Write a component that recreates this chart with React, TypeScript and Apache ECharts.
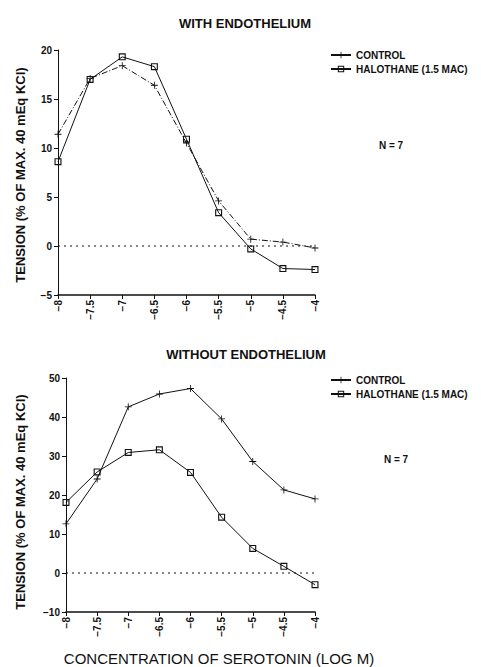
import React, { useEffect, useRef } from "react";
import * as echarts from "echarts";

const logConc = [-8, -7.5, -7, -6.5, -6, -5.5, -5, -4.5, -4];
const withControl = [11.4, 17.1, 18.4, 16.4, 10.5, 4.6, 0.7, 0.4, -0.2];
const withHalothane = [8.6, 17.0, 19.3, 18.3, 10.9, 3.4, -0.3, -2.3, -2.4];
const withoutControl = [12.6, 24.1, 42.6, 45.9, 47.3, 39.5, 28.6, 21.3, 19.0];
const withoutHalothane = [18.1, 25.9, 30.9, 31.6, 25.8, 14.3, 6.3, 1.7, -3.0];
const zeroRef = [0, 0];
const zeroRefX = [-8, -4];

const topTicks = { min: -5, max: 20, interval: 5 };
const bottomTicks = { min: -10, max: 50, interval: 10 };

const FONT = "'Liberation Sans', Arial, sans-serif";
const INK = "#111";
const CROSS = "path://M4.4,0h1.2v10h-1.2z M0,4.4h10v1.2h-10z";
const SQUARE = "path://M0,0h10v10h-10z M1.6,1.6v6.8h6.8v-6.8z";

function pairs(xs: number[], ys: number[]) {
  return xs.map((x, i) => [x, ys[i]]);
}

export default function App() {
  const ref = useRef<HTMLDivElement>(null);
  useEffect(() => {
    document.body.style.margin = "0";
    const chart = echarts.init(ref.current!, null, { renderer: "svg" });
    const fmt = (v: number) => (v < 0 ? "\u2212" + String(-v) : String(v));
    const xAxisBase = (gridIndex: number) => ({
      type: "value",
      gridIndex,
      min: -8,
      max: -4,
      interval: 0.5,
      splitLine: { show: false },
      axisLine: { show: true, onZero: false, lineStyle: { color: INK, width: 1.5 } },
      axisTick: { show: true, length: 4, lineStyle: { color: INK } },
      axisLabel: {
        rotate: 90,
        color: INK,
        fontFamily: FONT,
        fontSize: 10,
        fontWeight: "bold",
        margin: 5,
        formatter: fmt,
      },
    });
    const yAxisBase = (gridIndex: number, t: any) => ({
      type: "value",
      gridIndex,
      min: t.min,
      max: t.max,
      interval: t.interval,
      splitLine: { show: false },
      axisLine: { show: true, onZero: false, lineStyle: { color: INK, width: 1 } },
      axisTick: { show: true, length: 4, lineStyle: { color: INK } },
      axisLabel: {
        color: INK,
        fontFamily: FONT,
        fontSize: 10,
        fontWeight: "bold",
        margin: 6,
        formatter: fmt,
      },
    });
    const zeroSeries = (idx: number) => ({
      name: "zero" + idx,
      type: "line",
      xAxisIndex: idx,
      yAxisIndex: idx,
      data: pairs(zeroRefX, zeroRef),
      symbol: "none",
      silent: true,
      lineStyle: { color: INK, width: 1, type: [2, 4] },
      z: 1,
    });
    const controlSeries = (idx: number, data: number[], dashed: boolean) => ({
      name: "CONTROL",
      type: "line",
      xAxisIndex: idx,
      yAxisIndex: idx,
      data: pairs(logConc, data),
      symbol: CROSS,
      symbolSize: 7,
      itemStyle: { color: INK },
      lineStyle: { color: INK, width: 1, type: dashed ? [6, 2, 1, 2] : "solid" },
      z: 3,
    });
    const haloSeries = (idx: number, data: number[]) => ({
      name: "HALOTHANE (1.5 MAC)",
      type: "line",
      xAxisIndex: idx,
      yAxisIndex: idx,
      data: pairs(logConc, data),
      symbol: SQUARE,
      symbolSize: 7,
      itemStyle: { color: INK },
      lineStyle: { color: INK, width: 1, type: "solid" },
      z: 4,
    });
    const legendBase = (top: number) => ({
      left: 325,
      top,
      orient: "vertical",
      itemWidth: 20,
      itemHeight: 8,
      itemGap: 4,
      textStyle: { fontFamily: FONT, fontSize: 10, fontWeight: "bold", color: INK },
      selectedMode: false,
      data: [
        { name: "CONTROL", lineStyle: { type: "solid" } },
        { name: "HALOTHANE (1.5 MAC)" },
      ],
    });
    const txt = (x: number, y: number, text: string, fontSize: number, extra: any = {}) => ({
      type: "text",
      x,
      y,
      style: {
        text,
        fontFamily: FONT,
        fontSize,
        fill: INK,
        align: "center",
        verticalAlign: "middle",
        ...extra,
      },
    });
    chart.setOption({
      animation: false,
      backgroundColor: "#fff",
      grid: [
        { left: 58, top: 50, width: 257, height: 245 },
        { left: 66, top: 378, width: 249, height: 234 },
      ],
      xAxis: [xAxisBase(0), xAxisBase(1)],
      yAxis: [yAxisBase(0, topTicks), yAxisBase(1, bottomTicks)],
      legend: [legendBase(45), legendBase(370)],
      series: [
        zeroSeries(0),
        zeroSeries(1),
        controlSeries(0, withControl, true),
        haloSeries(0, withHalothane),
        controlSeries(1, withoutControl, false),
        haloSeries(1, withoutHalothane),
      ],
      graphic: [
        txt(245, 23, "WITH ENDOTHELIUM", 13, { fontWeight: "bold" }),
        txt(246, 354, "WITHOUT ENDOTHELIUM", 13, { fontWeight: "bold" }),
        txt(391, 145, "N = 7", 10, { fontWeight: "bold" }),
        txt(396, 459, "N = 7", 10, { fontWeight: "bold" }),
        { ...txt(20, 175, "TENSION (% OF MAX. 40 mEq KCl)", 13, { fontWeight: "bold" }), rotation: Math.PI / 2 },
        { ...txt(20, 502, "TENSION (% OF MAX. 40 mEq KCl)", 13, { fontWeight: "bold" }), rotation: Math.PI / 2 },
        txt(219, 658, "CONCENTRATION OF SEROTONIN (LOG M)", 15),
      ],
    });
    return () => chart.dispose();
  }, []);
  return <div ref={ref} style={{ width: 481, height: 667 }} />;
}
